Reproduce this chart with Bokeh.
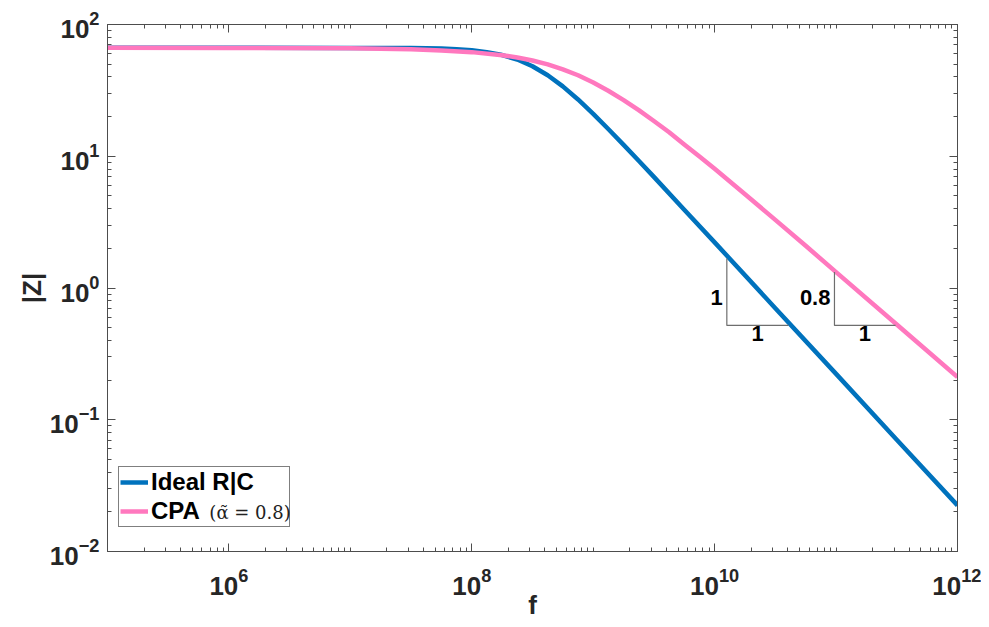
from bokeh.plotting import figure
from bokeh.models import (Range1d, FixedTicker, LogAxis, Legend, LegendItem,
                          CustomLabelingPolicy, ColumnDataSource)
from bokeh.core.properties import value
from bokeh.embed import file_html
from bokeh.resources import INLINE

# ---------------- data ----------------
freq_rc = [1e5, 1e6, 1e7, 3.16e7, 5.62e7, 7.5e7, 1e8, 1.33e8, 1.78e8, 2.37e8, 3.16e8,
           4.22e8, 5.62e8, 7.5e8, 1e9, 1.33e9, 1.78e9, 2.37e9, 3.16e9, 5.62e9, 1e10,
           3.16e10, 1e11, 3.16e11, 1e12]
z_rc = [66.5, 66.5, 66.4, 66.2, 65.6, 64.9, 63.7, 61.7, 58.6, 54.2, 48.2,
        41.2, 33.9, 27.0, 21.0, 16.1, 12.2, 9.25, 6.97, 3.93, 2.22,
        0.703, 0.223, 0.0705, 0.0224]

freq_cpa = [1e5, 1e6, 1e7, 3.16e7, 5.62e7, 1e8, 1.78e8, 2.37e8, 3.16e8, 4.22e8, 5.62e8,
            7.5e8, 1e9, 1.33e9, 1.78e9, 2.37e9, 3.16e9, 4.22e9, 5.62e9, 7.5e9, 1e10,
            1.78e10, 3.16e10, 5.62e10, 1e11, 3.16e11, 1e12]
z_cpa = [66.5, 66.4, 65.9, 64.8, 63.6, 61.7, 58.5, 56.2, 53.3, 49.8, 45.7,
         41.2, 36.3, 31.4, 26.7, 22.4, 18.5, 15.2, 12.3, 9.97, 8.03,
         5.15, 3.29, 2.09, 1.32, 0.528, 0.211]

# slope triangles
tri_rc_f = [1.26e10, 1.26e10, 4.06e10]
tri_rc_z = [1.675, 0.52, 0.52]
tri_cpa_f = [9.7e10, 9.7e10, 3.09e11]
tri_cpa_z = [1.32, 0.52, 0.52]
slope_lbl_f = [1.26e10, 9.7e10]
slope_lbl_z = [0.85, 0.85]
slope_lbl_txt = ["1", "0.8"]
run_lbl_f = [2.26e10, 1.73e11]
run_lbl_z = [0.52, 0.52]
run_lbl_txt = ["1", "1"]

# legend parameter note position (data coords)
alpha_note_f = 6.9e5
alpha_note_z = 0.0198
alpha_note_txt = "(α\u0303 = 0.8)"

x_major = [1e6, 1e8, 1e10, 1e12]
x_minor = [k * 10.0 ** e for e in range(5, 12) for k in range(1, 10)
           if (k * 10.0 ** e) not in x_major and k * 10.0 ** e > 1e5]
y_major = [1e-2, 1e-1, 1e0, 1e1, 1e2]
y_minor = [k * 10.0 ** e for e in range(-2, 2) for k in range(2, 10)]

BLUE = "#0072BD"
PINK = "#FF78BE"
AX = "#4d4d4d"
FONT = "Liberation Sans"

p = figure(x_axis_type="log", y_axis_type="log",
           x_range=Range1d(1e5, 1e12), y_range=Range1d(1e-2, 1e2),
           width=981, height=625,
           min_border_left=107, min_border_top=24, min_border_right=24, min_border_bottom=74,
           output_backend="svg", toolbar_location=None,
           background_fill_color="white", border_fill_color="white")
p.xgrid.visible = False
p.ygrid.visible = False
p.outline_line_color = AX


def style_axis(ax, major, minor, show_labels=True):
    ax.ticker = FixedTicker(ticks=major, minor_ticks=minor)
    ax.axis_line_color = AX
    ax.major_tick_line_color = AX
    ax.minor_tick_line_color = AX
    ax.major_tick_in = 8
    ax.major_tick_out = 0
    ax.minor_tick_in = 4
    ax.minor_tick_out = 0
    ax.major_label_text_font = FONT
    ax.major_label_text_font_style = "bold"
    ax.major_label_text_font_size = "26px"
    ax.major_label_text_color = "#262626"
    if not show_labels:
        ax.major_label_policy = CustomLabelingPolicy(
            code="for (const i of indices) { indices.unset(i) }\nreturn indices")
        ax.major_label_standoff = 0
        ax.major_label_text_font_size = "2px"


style_axis(p.xaxis[0], x_major, x_minor)
style_axis(p.yaxis[0], y_major, y_minor)
p.xaxis[0].major_label_standoff = 16
p.yaxis[0].major_label_standoff = 8
p.xaxis.axis_label = "f"
p.yaxis.axis_label = "|Z|"
for ax in (p.xaxis[0], p.yaxis[0]):
    ax.axis_label_text_font = FONT
    ax.axis_label_text_font_style = "bold"
    ax.axis_label_text_font_size = "26px"
    ax.axis_label_text_color = "#262626"
p.xaxis[0].axis_label_standoff = -8
p.yaxis[0].axis_label_standoff = 0

top_ax = LogAxis()
style_axis(top_ax, x_major, x_minor, show_labels=False)
p.add_layout(top_ax, "above")
right_ax = LogAxis()
style_axis(right_ax, y_major, y_minor, show_labels=False)
p.add_layout(right_ax, "right")

src_rc = ColumnDataSource(dict(f=freq_rc, z=z_rc))
src_cpa = ColumnDataSource(dict(f=freq_cpa, z=z_cpa))
r_rc = p.line("f", "z", source=src_rc, line_color=BLUE, line_width=4.5, line_join="round")
r_cpa = p.line("f", "z", source=src_cpa, line_color=PINK, line_width=4.5, line_join="round")

# slope triangles
p.line(tri_rc_f, tri_rc_z, line_color="#6e6e6e", line_width=1.2)
p.line(tri_cpa_f, tri_cpa_z, line_color="#6e6e6e", line_width=1.2)
p.text(x=slope_lbl_f, y=slope_lbl_z, text=slope_lbl_txt, text_font=value(FONT),
       text_font_style="bold", text_font_size="22px", text_align="right",
       text_baseline="middle", x_offset=-4, text_color="black")
p.text(x=run_lbl_f, y=run_lbl_z, text=run_lbl_txt, text_font=value(FONT),
       text_font_style="bold", text_font_size="22px", text_align="center",
       text_baseline="top", y_offset=1, text_color="black")

legend = Legend(items=[LegendItem(label="Ideal R|C", renderers=[r_rc]),
                       LegendItem(label="CPA", renderers=[r_cpa])],
                location=(11, 24), margin=0, padding=1, spacing=1,
                glyph_width=28, glyph_height=26, label_height=26, label_standoff=3,
                label_width=137,
                label_text_font=FONT, label_text_font_style="bold",
                label_text_font_size="24px", label_text_color="black",
                border_line_color="black", border_line_width=1.5,
                background_fill_alpha=0.0)
p.add_layout(legend, "center")

p.text(x=[alpha_note_f], y=[alpha_note_z], text=[alpha_note_txt],
       text_font=value("DejaVu Serif"), text_font_size="18px",
       text_baseline="middle", text_align="left", text_color="#222222")

open("out.html", "w").write(file_html(p, INLINE))
